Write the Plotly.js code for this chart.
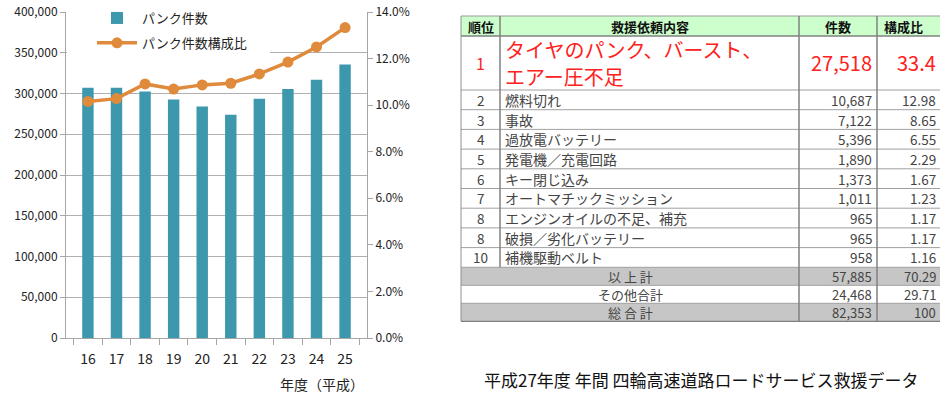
<!DOCTYPE html>
<html>
<head>
<meta charset="utf-8">
<script src="https://cdn.plot.ly/plotly-3.0.1.min.js"></script>
<style>html,body{margin:0;padding:0;background:#fff;}#chart{width:940px;height:395px;}</style>
</head>
<body>
<div id="chart"></div>
<script>
// ---- chart data ----
const years = ['16','17','18','19','20','21','22','23','24','25'];
const punkCounts = [307000, 307000, 302500, 292500, 284000, 274000, 293500, 305500, 317000, 335500];
const punkShare = [0.1016, 0.1028, 0.1091, 0.1069, 0.1087, 0.1094, 0.1134, 0.1185, 0.1250, 0.1333];

// ---- table data ----
const tableHeader = ['順位', '救援依頼内容', '件数', '構成比'];
const ranks = ['1','2','3','4','5','6','7','8','8','10'];
const items = ['タイヤのパンク、バースト、<br>エアー圧不足','燃料切れ','事故','過放電バッテリー','発電機／充電回路','キー閉じ込み','オートマチックミッション','エンジンオイルの不足、補充','破損／劣化バッテリー','補機駆動ベルト'];
const counts = [27518,10687,7122,5396,1890,1373,1011,965,965,958];
const shares = ['33.4','12.98','8.65','6.55','2.29','1.67','1.23','1.17','1.17','1.16'];
const summaryLabels = ['以 上 計','その他合計','総 合 計'];
const summaryCounts = [57885,24468,82353];
const summaryShares = ['70.29','29.71','100'];
const caption = '平成27年度 年間 四輪高速道路ロードサービス救援データ';

const W = 940, H = 395;
const px = x => x / W;
const py = y => 1 - y / H;
const FONT = '"Noto Sans CJK JP", "Noto Sans", sans-serif';
const fmt = n => n.toLocaleString('en-US');

const traces = [
  {type:'bar', x: years, y: punkCounts, name:'パンク件数', marker:{color:'#3d98ae'}, legendgroup:'a', hoverinfo:'skip'},
  {type:'scatter', mode:'lines+markers', x: years, y: punkShare, name:'パンク件数構成比', yaxis:'y2',
   line:{color:'#e08a3c', width:3.5}, marker:{color:'#e08a3c', size:11}, legendgroup:'b', hoverinfo:'skip'}
];

const shapes = [];
const annotations = [];

// legend backdrop (Excel legend box hides gridlines)
shapes.push({type:'rect', xref:'paper', yref:'paper', x0:px(67), x1:px(270), y0:py(0), y1:py(53), fillcolor:'#fff', line:{width:0}, layer:'above'});

annotations.push({xref:'paper', yref:'paper', x:px(366), y:py(384), xanchor:'right', yanchor:'middle', showarrow:false,
  text:'年度（平成）', font:{family:FONT, size:14, color:'#222'}});

// ---- table geometry ----
const colEdges = [461, 500, 799, 877, 940];
const headerTop = 16, headerH = 20, row1H = 54, rowH = 19.7, sumH = 18;
const rowTops = [];
let yy = headerTop + headerH;
for (let i = 0; i < ranks.length; i++) { rowTops.push(yy); yy += (i === 0 ? row1H : rowH); }
const rowsEnd = yy;
const sumTops = [];
for (let i = 0; i < summaryLabels.length; i++) { sumTops.push(yy); yy += sumH; }
const tableEnd = yy;

function rect(x0,x1,y0,y1,fill){shapes.push({type:'rect', xref:'paper', yref:'paper', x0:px(x0), x1:px(x1), y0:py(y1), y1:py(y0), fillcolor:fill, line:{width:0}, layer:'below'});}
function hline(y,x0,x1,c,w){shapes.push({type:'line', xref:'paper', yref:'paper', x0:px(x0), x1:px(x1), y0:py(y), y1:py(y), line:{color:c, width:w}});}
function vline(x,y0,y1,c,w){shapes.push({type:'line', xref:'paper', yref:'paper', x0:px(x), x1:px(x), y0:py(y0), y1:py(y1), line:{color:c, width:w}});}
function txt(x,y,t,anchor,size,color,bold){annotations.push({xref:'paper', yref:'paper', x:px(x), y:py(y), xanchor:anchor, yanchor:'middle', showarrow:false,
  align: anchor === 'center' ? 'center' : anchor, borderpad: 0,
  text: bold ? '<b>'+t+'</b>' : t, font:{family:FONT, size:size, color:color}});}

rect(colEdges[0], colEdges[4], headerTop, headerTop+headerH, '#ccffcc');
rect(colEdges[0], colEdges[4], sumTops[0], sumTops[0]+sumH, '#c6c6c6');
rect(colEdges[0], colEdges[4], sumTops[2], sumTops[2]+sumH, '#c6c6c6');

hline(headerTop, colEdges[0], colEdges[4], '#9a9a9a', 1);
hline(headerTop+headerH, colEdges[0], colEdges[4], '#808080', 1.5);
rowTops.slice(1).forEach(t => hline(t, colEdges[0], colEdges[4], '#a0a0a0', 1));
sumTops.forEach(t => hline(t, colEdges[0], colEdges[4], '#a0a0a0', 1));
hline(tableEnd, colEdges[0], colEdges[4], '#808080', 1.2);
vline(colEdges[0], headerTop, tableEnd, '#909090', 1);
vline(colEdges[1], headerTop, rowsEnd, '#808080', 1.5);
vline(colEdges[2], headerTop, tableEnd, '#808080', 1.5);
vline(colEdges[3], headerTop, tableEnd, '#808080', 1.5);

const cx = i => (colEdges[i] + colEdges[i+1]) / 2;
const hy = headerTop + headerH/2;
txt(cx(0), hy, tableHeader[0], 'center', 13, '#111', true);
txt(cx(1), hy, tableHeader[1], 'center', 13, '#111', true);
txt(cx(2), hy, tableHeader[2], 'center', 13, '#111', true);
txt(903, hy, tableHeader[3], 'center', 13, '#111', true);

for (let i = 0; i < ranks.length; i++) {
  const h = i === 0 ? row1H : rowH;
  const cy = rowTops[i] + h/2;
  const big = i === 0;
  const col = big ? '#ff2020' : '#444';
  txt(cx(0), cy, ranks[i], 'center', big ? 16 : 13.5, col, false);
  const lines = items[i].split('<br>');
  const lh = 27;
  lines.forEach((ln, k) => {
    const ly = cy + (k - (lines.length - 1) / 2) * lh;
    txt(colEdges[1] + 4, ly, ln, 'left', big ? 20 : 14, col, false);
  });
  txt(colEdges[3] - 4, cy, fmt(counts[i]), 'right', big ? 20 : 13.5, col, false);
  txt(colEdges[4] - 3, cy, shares[i], 'right', big ? 20 : 13.5, col, false);
}
for (let i = 0; i < summaryLabels.length; i++) {
  const cy = sumTops[i] + sumH/2;
  txt((colEdges[0]+colEdges[2])/2, cy, summaryLabels[i], 'center', 13, '#444', false);
  txt(colEdges[3] - 4, cy, fmt(summaryCounts[i]), 'right', 13, '#444', false);
  txt(colEdges[4] - 3, cy, summaryShares[i], 'right', 13, '#444', false);
}
txt(701, 379, caption, 'center', 17, '#111', false);

const axisColor = '#a6a6a6';
const layout = {
  width: W, height: H,
  margin: {l:0, r:0, t:0, b:0},
  paper_bgcolor:'#fff', plot_bgcolor:'#fff',
  font: {family: FONT, size: 12, color:'#333'},
  showlegend: true,
  legend: {x: px(92), y: py(3), xanchor:'left', yanchor:'top', bgcolor:'rgba(255,255,255,0)', font:{family:FONT, size:13, color:'#222'}, tracegroupgap: 5, itemwidth: 40},
  bargap: 0.6,
  xaxis: {domain:[px(66), px(367)], type:'category', showline:true, linecolor:axisColor, ticks:'outside', tickson:'boundaries',
          ticklen:6, tickcolor:axisColor, showgrid:false, tickfont:{size:14, color:'#222'}, ticklabelstandoff: 8, fixedrange:true},
  yaxis: {domain:[py(338), py(12)], range:[0,400000], dtick:50000, tickformat:',d', showgrid:true, gridcolor:'#b0b0b0', gridwidth:1,
          showline:true, linecolor:axisColor, ticks:'outside', ticklen:5, tickcolor:axisColor, zeroline:false,
          tickfont:{size:12, color:'#222'}, fixedrange:true},
  yaxis2: {overlaying:'y', side:'right', range:[0,0.14], dtick:0.02, tickformat:'.1%', showgrid:false, zeroline:false,
           showline:true, linecolor:axisColor, ticks:'outside', ticklen:5, tickcolor:axisColor,
           tickfont:{size:12, color:'#222'}, fixedrange:true},
  shapes: shapes,
  annotations: annotations
};

Plotly.newPlot('chart', traces, layout, {displayModeBar:false, staticPlot:true});
</script>
</body>
</html>
